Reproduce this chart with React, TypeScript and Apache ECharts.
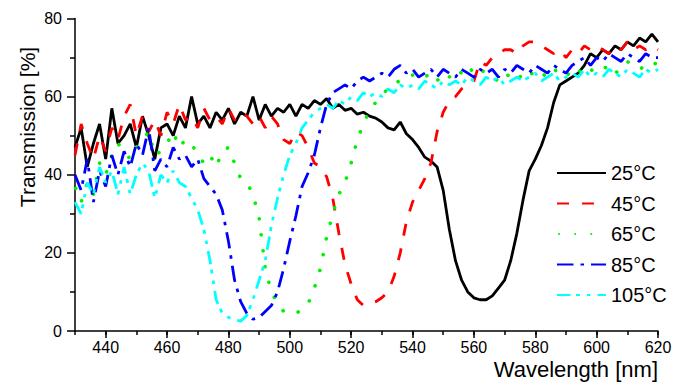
import React, { useEffect, useRef } from "react";
import * as echarts from "echarts";

const wavelengths = [
  430, 432, 434, 436, 438, 440, 442, 444, 446, 448,
  450, 452, 454, 456, 458, 460, 462, 464, 466, 468,
  470, 472, 474, 476, 478, 480, 482, 484, 486, 488,
  490, 492, 494, 496, 498, 500, 502, 504, 506, 508,
  510, 512, 514, 516, 518, 520, 522, 524, 526, 528,
  530, 532, 534, 536, 538, 540, 542, 544, 546, 548,
  550, 552, 554, 556, 558, 560, 562, 564, 566, 568,
  570, 572, 574, 576, 578, 580, 582, 584, 586, 588,
  590, 592, 594, 596, 598, 600, 602, 604, 606, 608,
  610, 612, 614, 616, 618, 620,
];

const t25 = [
  47, 52, 42, 48, 53, 44, 57, 48, 50, 53,
  47, 55, 50, 44, 52, 53, 50, 55, 52, 60,
  53, 55, 52, 56, 54, 57, 53, 56, 55, 60,
  54, 58, 55, 57, 56, 58, 55, 58, 57, 59,
  58, 59.5, 57, 58, 56.5, 57, 55.5, 56, 55, 54.5,
  53.5, 52, 51.5, 53.5, 50.5, 49, 47, 44.5, 43.5, 42,
  36, 26, 18, 13, 10, 8.5, 8, 8, 9, 11,
  13, 18, 25, 33.5, 41, 44, 47.5, 52, 58.5, 63,
  64, 65, 66, 68, 71, 70, 72, 71, 73, 72,
  74, 73, 75, 74, 76, 74,
];

const t45 = [
  45, 53, 48, 44, 50, 46, 52, 49, 55, 58,
  50, 55, 51, 54, 50, 56, 53, 58, 54, 55,
  52, 57, 54, 55, 53, 57, 54, 56, 55, 53,
  55, 52, 55, 53, 49, 48, 51, 50, 47, 43,
  42, 39.5, 34, 25, 17, 12, 8, 6.5, 7, 7.5,
  8.5, 10, 14, 20, 28, 33, 36, 39, 43, 51,
  56, 59, 60, 62, 63, 64, 69, 68, 70, 71,
  72, 72, 71, 73, 74, 74, 73, 72, 71, 72,
  70, 72, 71, 73, 72, 73, 72, 71, 73, 72,
  74, 72, 73, 72, 73, 72,
];

const t65 = [
  37, 33, 38, 35, 43, 40, 45, 48, 46, 44,
  47, 49, 51, 45, 46, 48, 51, 47, 49, 48,
  45, 43, 45, 42, 46, 47, 43, 39, 38, 35,
  29, 16, 10, 7, 5, 4.5, 4.5, 5.5, 7, 11,
  16, 24, 30, 35, 38, 43, 49, 53, 56.5, 58.5,
  60.5, 62, 63.5, 64, 65, 65.5, 66, 65, 66, 64,
  66, 65, 67, 66, 65, 68, 67, 66, 65, 64,
  66, 65, 64, 66, 65, 67, 66, 65, 67, 66,
  65, 67, 66, 68, 67, 66, 67, 68, 66, 67,
  69, 68, 67, 68, 69, 68,
];

const t85 = [
  40, 36, 44, 33, 41, 37, 45, 40, 46, 42,
  48, 45, 52, 41, 44, 42, 47, 44, 45, 42,
  44, 39, 37, 35, 31, 23, 13, 7.5, 4.5, 3,
  3.5, 5, 6.5, 10, 16, 23, 29.5, 37, 40.5, 45,
  52, 58, 61, 62, 63, 62, 64, 65, 64, 65,
  66, 65, 67, 68, 66, 67, 65, 66, 67, 65,
  67, 66, 65, 67, 66, 65, 67, 66, 67, 65,
  67, 66, 68, 67, 66, 68, 67, 66, 68, 67,
  66, 68, 69, 70, 68, 70, 69, 71, 70, 69,
  71, 70, 69, 71, 70, 70,
];

const t105 = [
  33, 30, 38, 35, 42, 38, 41, 35, 42, 35,
  40, 43, 41, 34, 40, 38, 41, 38, 37, 34,
  31, 26, 18, 8, 4.5, 3.5, 3, 2.5, 4, 8,
  13, 18, 27, 34, 40, 45, 48, 52, 54, 56,
  57, 58, 57, 59, 58, 60, 59, 61, 60, 61,
  60, 62, 61, 63, 62, 63, 62, 64, 63, 62,
  64, 63, 64, 63, 65, 64, 63, 65, 64, 65,
  63, 64, 65, 64, 65, 66, 64, 65, 66, 64,
  65, 66, 65, 67, 65, 66, 65, 67, 66, 65,
  67, 66, 65, 67, 66, 67,
];

const seriesNames = ["25°C", "45°C", "65°C", "85°C", "105°C"];
const seriesValues = [t25, t45, t65, t85, t105];

const xMin = 430;
const xMax = 620;
const xLabelStart = 440;
const yMin = 0;
const yMax = 80;
const xTitle = "Wavelength [nm]";
const yTitle = "Transmission [%]";

const FONT = "'Liberation Sans', Arial, Helvetica, sans-serif";
const colors = ["#000000", "#ff0000", "#00f000", "#0000ff", "#00ffff"];
const lineStyles: any[] = [
  { width: 2.8, type: "solid" },
  { width: 2.8, type: [12, 13] },
  { width: 3.6, type: [0.1, 16], cap: "round", dashOffset: -2 },
  { width: 2.8, type: [16.5, 7, 3.5, 7] },
  { width: 2.8, type: [13.5, 5.5, 4, 7, 3.5, 7] },
];

export default function App() {
  const ref = useRef<HTMLDivElement>(null);

  useEffect(() => {
    if (!ref.current) return;
    const chart = echarts.init(ref.current, undefined, { renderer: "svg" });

    const W = 688;
    const left = 75;
    const right = 30;
    const top = 18.5;
    const bottom = 52;
    const plotW = W - left - right;
    const left2 = left + (plotW * (xLabelStart - xMin)) / (xMax - xMin);

    const axisColor = "#000";

    const option: any = {
      animation: false,
      backgroundColor: "#ffffff",
      textStyle: { fontFamily: FONT },
      grid: [
        { left, right, top, bottom },
        { left: left2, right, top, bottom },
      ],
      graphic: [
        {
          type: "text",
          x: 27,
          y: 127,
          rotation: Math.PI / 2,
          style: {
            text: yTitle,
            fontSize: 21,
            fontFamily: FONT,
            fill: "#000",
            align: "center",
            verticalAlign: "middle",
          },
        },
      ],
      xAxis: [
        {
          type: "value",
          gridIndex: 0,
          min: xMin,
          max: xMax,
          interval: 10,
          axisLine: { show: true, lineStyle: { color: axisColor, width: 1.5 } },
          axisTick: { show: true, length: 4, lineStyle: { color: axisColor, width: 1.5 } },
          axisLabel: { show: false },
          splitLine: { show: false },
        },
        {
          type: "value",
          gridIndex: 1,
          min: xLabelStart,
          max: xMax,
          interval: 20,
          axisLine: { show: false },
          axisTick: { show: true, length: 7, lineStyle: { color: axisColor, width: 1.5 } },
          axisLabel: { show: true, fontSize: 16, color: "#000", margin: 8, fontFamily: FONT },
          splitLine: { show: false },
          name: xTitle,
          nameLocation: "end",
          nameGap: 0,
          nameTextStyle: {
            fontSize: 22,
            color: "#000",
            fontFamily: FONT,
            align: "right",
            verticalAlign: "top",
            padding: [27, 0, 0, 0],
          },
        },
      ],
      yAxis: [
        {
          type: "value",
          gridIndex: 0,
          min: yMin,
          max: yMax,
          interval: 20,
          axisLine: { show: true, lineStyle: { color: axisColor, width: 1.5 } },
          axisTick: { show: true, length: 8, lineStyle: { color: axisColor, width: 1.5 } },
          minorTick: { show: true, splitNumber: 2, length: 5, lineStyle: { color: axisColor, width: 1.5 } },
          axisLabel: { show: true, fontSize: 16, color: "#000", margin: 13, fontFamily: FONT },
          splitLine: { show: false },
          minorSplitLine: { show: false },
        },
        {
          type: "value",
          gridIndex: 1,
          min: yMin,
          max: yMax,
          show: false,
        },
      ],
      legend: {
        orient: "vertical",
        left: 551,
        top: 158,
        itemWidth: 49,
        itemHeight: 14,
        itemGap: 10.5,
        itemStyle: { opacity: 0, borderWidth: 0 },
        textStyle: { fontSize: 20, color: "#000", fontFamily: FONT, lineHeight: 20 },
        data: seriesNames,
      },
      series: seriesNames.map((name, i) => ({
        name,
        type: "line",
        xAxisIndex: 0,
        yAxisIndex: 0,
        symbol: "none",
        showSymbol: false,
        smooth: false,
        data: wavelengths.map((w, j) => [w, seriesValues[i][j]]),
        lineStyle: { color: colors[i], ...lineStyles[i] },
        itemStyle: { color: colors[i] },
        z: 2 + i,
      })),
    };

    chart.setOption(option);
    return () => chart.dispose();
  }, []);

  return (
    <div
      ref={ref}
      style={{ position: "fixed", left: 0, top: 0, width: 688, height: 383, background: "#fff" }}
    />
  );
}
